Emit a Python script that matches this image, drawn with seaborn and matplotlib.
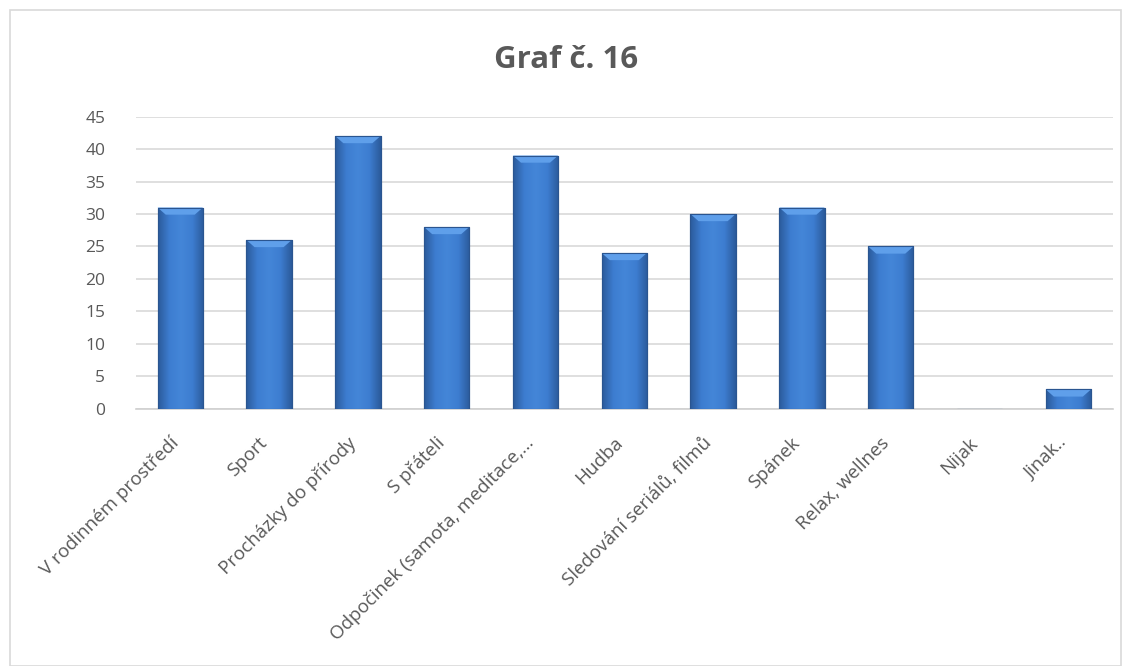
import matplotlib
matplotlib.use("Agg")
import matplotlib.pyplot as plt
import matplotlib.transforms as mtransforms
import seaborn as sns
import numpy as np
import pandas as pd
from matplotlib.patches import Rectangle, Polygon
from matplotlib.colors import LinearSegmentedColormap

categories = ["V rodinném prostředí", "Sport", "Procházky do přírody", "S přáteli",
              "Odpočinek (samota, meditace,…", "Hudba", "Sledování seriálů, filmů",
              "Spánek", "Relax, wellnes", "Nijak", "Jinak.."]
values = [31, 26, 42, 28, 39, 24, 30, 31, 25, 0, 3]
yticks = [0, 5, 10, 15, 20, 25, 30, 35, 40, 45]
title = "Graf č. 16"

sns.set_theme(style="white")
plt.rcParams['font.family'] = ['Open Sans', 'DejaVu Sans']

df = pd.DataFrame({"cat": categories, "val": values})

fig = plt.figure(figsize=(11.32, 6.66), dpi=100)
ax = fig.add_axes([0.120, 0.386, 0.863, 0.439])

sns.barplot(data=df, x="cat", y="val", ax=ax, color="#3C78C6", width=0.51,
            edgecolor="#2A5590", linewidth=0.8, saturation=1, zorder=3)

ax.set_ylim(0, 45)
ax.set_xlim(-0.5, len(categories) - 0.5)
ax.set_yticks(yticks)
ax.set_yticklabels([str(t) for t in yticks], color="#595959", fontsize=12.5)
ax.yaxis.grid(True, color="#D9D9D9", linewidth=1.2, zorder=0)
ax.set_axisbelow(True)
for s in ["top", "right", "left"]:
    ax.spines[s].set_visible(False)
ax.spines["bottom"].set_color("#D0D0D0")
ax.spines["bottom"].set_linewidth(1.2)
ax.tick_params(axis="y", length=0, pad=22)
ax.tick_params(axis="x", length=0, pad=25)
ax.set_xlabel("")
ax.set_ylabel("")
ax.set_xticks(range(len(categories)))
ax.set_xticklabels(categories, rotation=45, ha="right", va="baseline",
                   rotation_mode="anchor", color="#595959", fontsize=13.5)
shift = mtransforms.ScaledTranslation(-1 / 100, 0, fig.dpi_scale_trans)
for lab in ax.get_xticklabels():
    lab.set_transform(lab.get_transform() + shift)

# gradient fill and bevel for bars
cmap = LinearSegmentedColormap.from_list("bev", ["#2B5A9A", "#3D7DD0", "#4486D8", "#3D7DD0", "#2B5A9A"])
grad = np.linspace(0, 1, 256).reshape(1, -1)
bev = 1.1  # bevel depth in data units (vertical)
for p in ax.patches:
    h = p.get_height()
    if h <= 0:
        continue
    x0, w = p.get_x(), p.get_width()
    im = ax.imshow(grad, extent=[x0, x0 + w, 0, h], aspect="auto", cmap=cmap, zorder=3.5)
    im.set_clip_path(p)
    dx = w * 0.18
    top = Polygon([[x0, h], [x0 + w, h], [x0 + w - dx, h - bev], [x0 + dx, h - bev]],
                  closed=True, facecolor="#5F9FEA", edgecolor="none", zorder=3.6)
    ax.add_patch(top)
    ax.add_patch(Rectangle((x0, 0), w, h, fill=False, edgecolor="#2A5590",
                           linewidth=0.8, zorder=3.7))

fig.text(0.5, 0.91, title, ha="center", va="center", fontsize=22.5,
         fontweight="bold", color="#595959")

fig.patches.append(Rectangle((0.009, 0.0), 0.981, 0.985, transform=fig.transFigure,
                             fill=False, edgecolor="#D9D9D9", linewidth=1.2))

fig.savefig("out.png", dpi=100)
